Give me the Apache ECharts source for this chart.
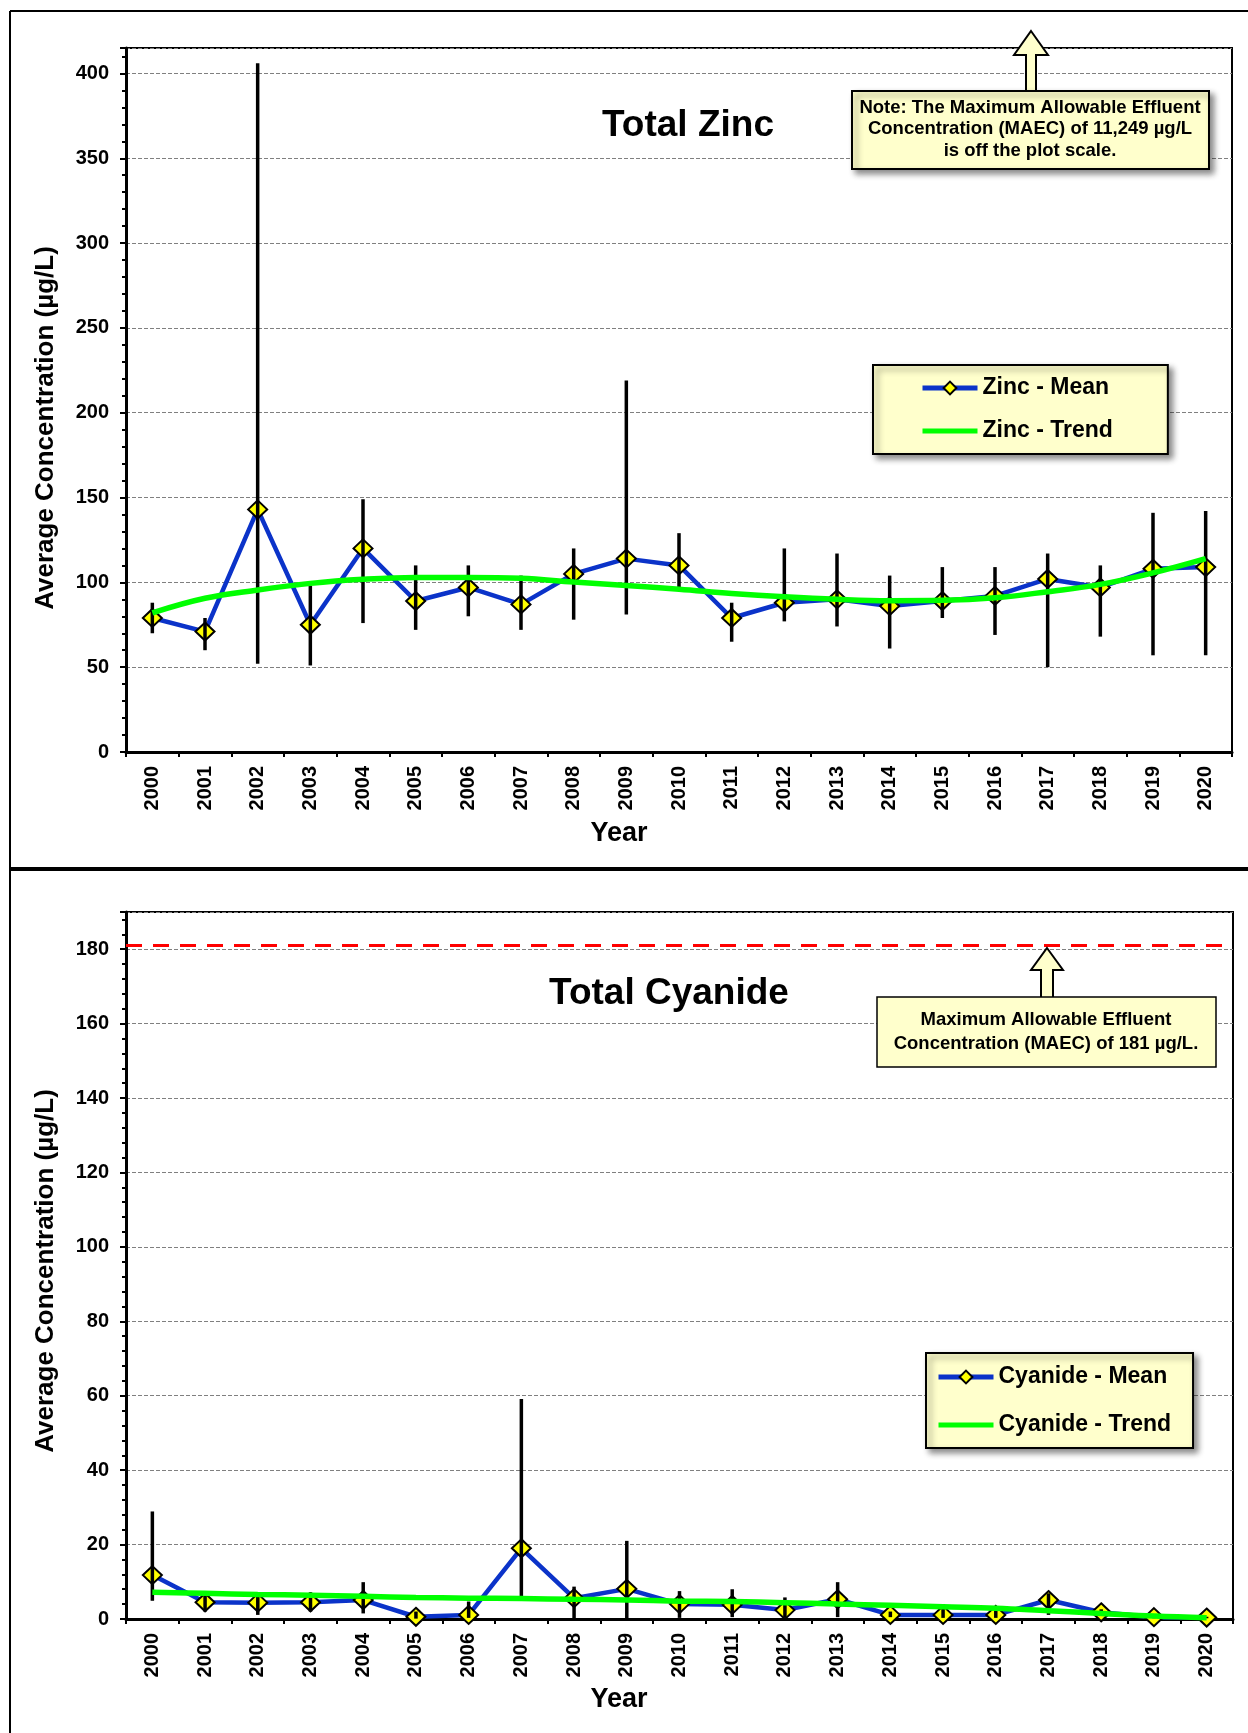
<!DOCTYPE html>
<html>
<head>
<meta charset="utf-8">
<script src="https://cdn.jsdelivr.net/npm/echarts@6/dist/echarts.min.js"></script>
<style>
  html, body { margin: 0; padding: 0; background: #fff; }
  #chart { width: 1248px; height: 1733px; }
</style>
</head>
<body>
<div id="chart"></div>
<script>
// Annual monitoring results, 2000-2020
const years = ['2000','2001','2002','2003','2004','2005','2006','2007','2008','2009','2010',
               '2011','2012','2013','2014','2015','2016','2017','2018','2019','2020'];

// Total zinc (µg/L): annual mean, min/max range and fitted trend
const zincMean  = [79, 71, 143, 75, 120, 89, 97, 87, 105, 114, 110, 79, 88, 90, 86, 89, 92, 102, 97, 108, 109];
const zincLow   = [70, 60, 52, 51, 76, 72, 80, 72, 78, 81, 97, 65, 77, 74, 61, 79, 69, 50, 68, 57, 57];
const zincHigh  = [88, 79, 406, 98, 149, 110, 110, 104, 120, 219, 129, 88, 120, 117, 104, 109, 109, 117, 110, 141, 142];
const zincTrend = [82, 90.6, 95.5, 99.4, 101.8, 102.9, 102.9, 102.4, 100.2, 98.2, 96, 93.5, 91.5, 90, 89.2, 89.4, 90.9, 94.5, 98.8, 105.6, 114];

// Total cyanide (µg/L): annual mean, min/max range and fitted trend
const cyanideMean  = [11.8, 4.5, 4.4, 4.5, 5.1, 0.6, 1.1, 19.0, 5.6, 8.1, 4.0, 3.8, 2.4, 5.3, 1.1, 1.1, 1.1, 5.1, 1.8, 0.5, 0.4];
const cyanideLow   = [4.9, 2.0, 1.1, 2.0, 1.5, 0.1, 0.3, 5.8, 0.1, 0.0, 0.3, 0.5, 0.3, 0.5, 0.5, 0.3, 0.3, 1.1, 1.0, 0.2, 0.2];
const cyanideHigh  = [28.9, 7.5, 7.2, 7.2, 9.9, 2.0, 4.7, 59.1, 8.7, 21.0, 7.5, 8.0, 5.8, 9.9, 2.0, 4.0, 3.5, 6.9, 2.6, 0.8, 0.6];
const cyanideTrend = [7.2, 6.9, 6.6, 6.4, 6.1, 5.8, 5.6, 5.5, 5.3, 5.1, 4.8, 4.7, 4.4, 4.0, 3.7, 3.3, 2.9, 2.2, 1.5, 0.8, 0.35];

// Maximum allowable effluent concentration for cyanide (µg/L)
const cyanideMaec = [181];

// Value axis ranges
const zincAxis    = { min: 0, max: 415, interval: 50 };
const cyanideAxis = { min: 0, max: 190, interval: 20 };

const FONT = '"Liberation Sans", Arial, Helvetica, sans-serif';
const NOTE_FILL = '#FFFFCC';
const TREND_ICON = 'path://M0,0H55V5H0Z';

function categoryAxis(gridIndex) {
  return {
    type: 'category', gridIndex, data: years, boundaryGap: true,
    axisLine: { lineStyle: { color: '#000', width: 3 } },
    axisTick: { show: true, length: 5, lineStyle: { color: '#000', width: 2 } },
    axisLabel: { rotate: 90, margin: 14, color: '#000', fontSize: 20, fontWeight: 'bold', fontFamily: FONT },
    splitLine: { show: false }
  };
}

function valueAxis(gridIndex, range) {
  return {
    type: 'value', gridIndex, min: range.min, max: range.max, interval: range.interval,
    axisLine: { show: true, lineStyle: { color: '#000', width: 3 } },
    axisTick: { show: true, length: 6, lineStyle: { color: '#000', width: 2 } },
    minorTick: { show: true, splitNumber: 5, length: 4, lineStyle: { color: '#000', width: 2 } },
    axisLabel: { margin: 17, color: '#000', fontSize: 20, fontWeight: 'bold', fontFamily: FONT, showMaxLabel: false },
    splitLine: { show: true, lineStyle: { color: '#808080', width: 1, type: [4, 2] } }
  };
}

function meanSeries(name, data, idx, extra) {
  return Object.assign({
    type: 'line', name, data, xAxisIndex: idx, yAxisIndex: idx, z: 2,
    symbol: 'diamond', symbolSize: [19, 18], showAllSymbol: true,
    lineStyle: { color: '#0B33C9', width: 4.5 },
    itemStyle: { color: '#FFFF00', borderColor: '#000', borderWidth: 2 },
    emphasis: { disabled: true }, silent: true
  }, extra || {});
}

function trendSeries(name, data, idx) {
  return {
    type: 'line', name, data, xAxisIndex: idx, yAxisIndex: idx, z: 4,
    smooth: 0.4, symbol: 'none',
    lineStyle: { color: '#00FF00', width: 5.5 },
    itemStyle: { color: '#00FF00' },
    emphasis: { disabled: true }, silent: true
  };
}

// Vertical min-max range bars, drawn through the axes' own coordinate system
function rangeSeries(name, low, high, idx) {
  return {
    type: 'custom', name, xAxisIndex: idx, yAxisIndex: idx, z: 3, silent: true,
    data: low.map((l, i) => [i, l, high[i]]),
    encode: { x: 0, y: [1, 2] },
    renderItem(params, api) {
      const lo = api.coord([api.value(0), api.value(1)]);
      const hi = api.coord([api.value(0), api.value(2)]);
      return {
        type: 'line',
        shape: { x1: lo[0], y1: lo[1], x2: hi[0], y2: hi[1] },
        style: { stroke: '#000', lineWidth: 3.5 }
      };
    }
  };
}

function legendBox(meanName, trendName, left, top, padding, itemGap) {
  return {
    data: [meanName, { name: trendName, icon: TREND_ICON }],
    orient: 'vertical', left, top, padding, itemGap,
    itemWidth: 55, itemHeight: 16, selectedMode: false,
    lineStyle: { width: 5 },
    backgroundColor: NOTE_FILL, borderColor: '#000', borderWidth: 2,
    shadowBlur: 6, shadowColor: 'rgba(0,0,0,0.45)', shadowOffsetX: 4, shadowOffsetY: 4,
    textStyle: { color: '#000', fontSize: 23, fontWeight: 'bold', fontFamily: FONT, lineHeight: 26 }
  };
}

function label(text, x, y, size, rotation) {
  return {
    type: 'text', x, y, rotation: rotation || 0, z: 50, silent: true,
    style: { text, fill: '#000', fontSize: size, fontWeight: 'bold', fontFamily: FONT,
             align: 'center', verticalAlign: 'middle' }
  };
}

function upArrow(tipX, tipY, headY, headHalf, shaftHalf, baseY) {
  return {
    type: 'polygon', z: 60, silent: true,
    shape: { points: [
      [tipX, tipY], [tipX + headHalf, headY], [tipX + shaftHalf, headY], [tipX + shaftHalf, baseY],
      [tipX - shaftHalf, baseY], [tipX - shaftHalf, headY], [tipX - headHalf, headY]
    ] },
    style: { fill: NOTE_FILL, stroke: '#000', lineWidth: 2 }
  };
}

const option = {
  backgroundColor: '#fff',
  animation: false,
  grid: [
    { left: 126, top: 48, width: 1106, height: 704, show: true, borderColor: '#000', borderWidth: 2, backgroundColor: 'transparent' },
    { left: 126, top: 912, width: 1107, height: 707, show: true, borderColor: '#000', borderWidth: 2, backgroundColor: 'transparent' }
  ],
  xAxis: [categoryAxis(0), categoryAxis(1)],
  yAxis: [valueAxis(0, zincAxis), valueAxis(1, cyanideAxis)],
  legend: [
    legendBox('Zinc - Mean', 'Zinc - Trend', 873, 365, [10, 55, 10, 47], 17),
    legendBox('Cyanide - Mean', 'Cyanide - Trend', 926, 1353, [11, 22, 10, 10], 22)
  ],
  series: [
    meanSeries('Zinc - Mean', zincMean, 0),
    rangeSeries('Zinc - Range', zincLow, zincHigh, 0),
    trendSeries('Zinc - Trend', zincTrend, 0),
    meanSeries('Cyanide - Mean', cyanideMean, 1, {
      markLine: {
        silent: true, symbol: 'none', label: { show: false },
        lineStyle: { color: '#FF0000', width: 3, type: [16, 11] },
        data: cyanideMaec.map(v => ({ yAxis: v }))
      }
    }),
    rangeSeries('Cyanide - Range', cyanideLow, cyanideHigh, 1),
    trendSeries('Cyanide - Trend', cyanideTrend, 1)
  ],
  graphic: [
    // page frame and panel divider
    { type: 'line', z: 40, silent: true, shape: { x1: 10, y1: 11, x2: 1248, y2: 11 }, style: { stroke: '#000', lineWidth: 2 } },
    { type: 'line', z: 40, silent: true, shape: { x1: 10, y1: 11, x2: 10, y2: 1733 }, style: { stroke: '#000', lineWidth: 2 } },
    { type: 'line', z: 40, silent: true, shape: { x1: 10, y1: 869, x2: 1248, y2: 869 }, style: { stroke: '#000', lineWidth: 4 } },

    // panel titles
    label('Total Zinc', 688, 126, 37),
    label('Total Cyanide', 669, 994, 37),

    // axis titles
    label('Average Concentration (µg/L)', 46, 428, 26, Math.PI / 2),
    label('Year', 619, 834, 27),
    label('Average Concentration (µg/L)', 46, 1271, 26, Math.PI / 2),
    label('Year', 619, 1700, 27),

    // zinc MAEC note (limit is off scale)
    upArrow(1031, 31, 55, 17, 5, 93),
    { type: 'rect', z: 61, silent: true, shape: { x: 852, y: 91, width: 357, height: 78 },
      style: { fill: NOTE_FILL, stroke: '#000', lineWidth: 2, shadowBlur: 6, shadowColor: 'rgba(0,0,0,0.45)', shadowOffsetX: 4, shadowOffsetY: 4 } },
    { type: 'text', x: 1030, y: 129, z: 62, silent: true,
      style: { text: 'Note: The Maximum Allowable Effluent\nConcentration (MAEC) of 11,249 µg/L\nis off the plot scale.',
               fill: '#000', fontSize: 18.5, fontWeight: 'bold', fontFamily: FONT, lineHeight: 21.5,
               align: 'center', verticalAlign: 'middle' } },

    // cyanide MAEC note
    upArrow(1047, 948, 970, 16, 6, 998),
    { type: 'rect', z: 61, silent: true, shape: { x: 877, y: 997, width: 339, height: 70 },
      style: { fill: NOTE_FILL, stroke: '#000', lineWidth: 1.5 } },
    { type: 'text', x: 1046, y: 1032, z: 62, silent: true,
      style: { text: 'Maximum Allowable Effluent\nConcentration (MAEC) of 181 µg/L.',
               fill: '#000', fontSize: 18.5, fontWeight: 'bold', fontFamily: FONT, lineHeight: 24,
               align: 'center', verticalAlign: 'middle' } }
  ]
};

const chart = echarts.init(document.getElementById('chart'), null, { renderer: 'canvas' });
chart.setOption(option);
</script>
</body>
</html>
